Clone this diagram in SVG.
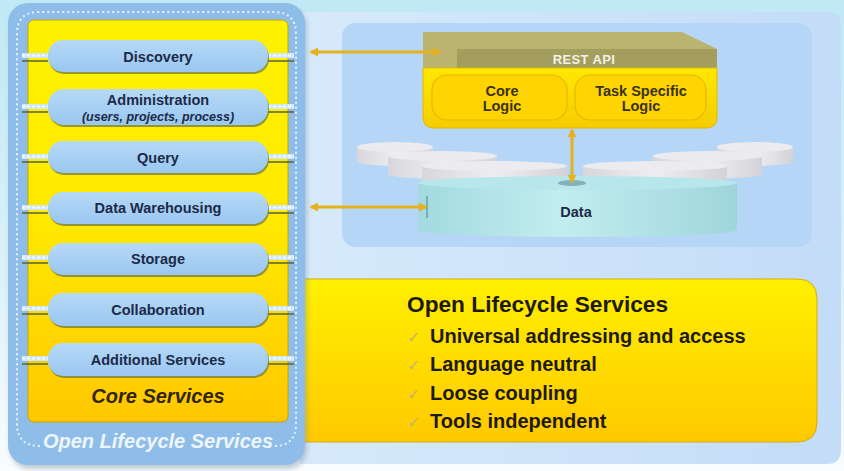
<svg xmlns="http://www.w3.org/2000/svg" width="844" height="471" viewBox="0 0 844 471">
  <style>
    .lbl { font-family: "Liberation Sans", Arial, sans-serif; font-weight: bold; font-size: 14.5px; fill: #1c2a48; text-anchor: middle; }
    .sub { font-family: "Liberation Sans", Arial, sans-serif; font-weight: bold; font-style: italic; font-size: 12.5px; fill: #1c2a48; text-anchor: middle; }
    .logic { font-family: "Liberation Sans", Arial, sans-serif; font-weight: bold; font-size: 14.5px; fill: #3a3218; text-anchor: middle; }
    .pill { fill: url(#pillGrad); }
    .pill-shade { fill: #6e7a45; opacity: 0.75; }
    .stub { fill: #cfe6fb; }
    .stub-dash { stroke: #ffffff; stroke-width: 2; stroke-dasharray: 3 2; opacity: 0.8; }
    .stub-line { stroke: #5d6a3c; stroke-width: 1.6; }
    .arrow { stroke: #e6b11e; stroke-width: 3; fill: none; marker-start: url(#head); marker-end: url(#head); }
    .bullet { font-family: "Liberation Sans", Arial, sans-serif; font-weight: bold; font-size: 20px; fill: #1e1a10; }
    .tick { font-family: "DejaVu Sans", sans-serif; font-size: 16px; fill: #c9b46a; }
    .disk-top { fill: #ececf0; }
    .disk-side { fill: url(#diskGrad); }
  </style>
  <defs>
    <linearGradient id="bg" x1="0" y1="0" x2="0" y2="1">
      <stop offset="0" stop-color="#bfe9f5"/>
      <stop offset="0.6" stop-color="#dcf1f9"/>
      <stop offset="1" stop-color="#fafcfd"/>
    </linearGradient>
    <linearGradient id="outerGrad" x1="0" y1="0" x2="1" y2="0">
      <stop offset="0" stop-color="#d6eafb"/>
      <stop offset="1" stop-color="#c3dcf7"/>
    </linearGradient>
    <linearGradient id="coreYellow" x1="0" y1="0" x2="0" y2="1">
      <stop offset="0" stop-color="#fff200"/>
      <stop offset="0.5" stop-color="#ffe900"/>
      <stop offset="1" stop-color="#ffc800"/>
    </linearGradient>
    <linearGradient id="boxYellow" x1="0" y1="0" x2="0" y2="1">
      <stop offset="0" stop-color="#fff000"/>
      <stop offset="1" stop-color="#ffc900"/>
    </linearGradient>
    <linearGradient id="restYellow" x1="0" y1="0" x2="0" y2="1">
      <stop offset="0" stop-color="#ffe800"/>
      <stop offset="1" stop-color="#f5cc00"/>
    </linearGradient>
    <linearGradient id="pillGrad" x1="0" y1="0" x2="0" y2="1">
      <stop offset="0" stop-color="#b6d9f7"/>
      <stop offset="1" stop-color="#9ac7f0"/>
    </linearGradient>
    <linearGradient id="cylGrad" x1="0" y1="0" x2="1" y2="0">
      <stop offset="0" stop-color="#a2dadf"/>
      <stop offset="0.45" stop-color="#c2edef"/>
      <stop offset="1" stop-color="#9fd6db"/>
    </linearGradient>
    <linearGradient id="diskGrad" x1="0" y1="0" x2="1" y2="0">
      <stop offset="0" stop-color="#d6d6dc"/>
      <stop offset="0.5" stop-color="#eeeef2"/>
      <stop offset="1" stop-color="#d2d2d8"/>
    </linearGradient>
    <marker id="head" viewBox="0 0 10 10" refX="8" refY="5" markerWidth="9" markerHeight="9" markerUnits="userSpaceOnUse" orient="auto-start-reverse">
      <path d="M0,0 L10,5 L0,10 Z" fill="#e6b11e"/>
    </marker>
    <filter id="soft" x="-5%" y="-5%" width="110%" height="110%">
      <feGaussianBlur stdDeviation="2.5"/>
    </filter>
  </defs>

  <!-- backdrop -->
  <rect x="0" y="0" width="844" height="471" fill="url(#bg)"/>

  <!-- right-hand panel with its inner service area -->
  <g id="platform-panel">
    <path d="M300,12 L827,12 Q841,12 841,26 L841,450 Q841,464 827,464 L300,464 Z" fill="url(#outerGrad)"/>
    <rect x="342" y="23" width="470" height="224" rx="14" fill="#b6d6f7"/>
  </g>

  <!-- feature summary box -->
  <g id="features">
    <path d="M300,279 L797,279 Q817,279 817,299 L817,422 Q817,442 797,442 L300,442 Z" fill="url(#boxYellow)" stroke="#d8aa10" stroke-width="1"/>
    <text x="407" y="312" font-family="Liberation Sans, Arial, sans-serif" font-weight="bold" font-size="22.7" fill="#1e1a10">Open Lifecycle Services</text>
    <text class="tick" x="407" y="343">✓</text>
    <text class="bullet" x="430" y="343">Universal addressing and access</text>
    <text class="tick" x="407" y="371">✓</text>
    <text class="bullet" x="430" y="371">Language neutral</text>
    <text class="tick" x="407" y="400">✓</text>
    <text class="bullet" x="430" y="400">Loose coupling</text>
    <text class="tick" x="407" y="428">✓</text>
    <text class="bullet" x="430" y="428">Tools independent</text>
  </g>

  <!-- left column: Open Lifecycle Services container -->
  <g id="open-lifecycle-services">
    <rect x="10" y="7" width="297" height="462" rx="20" fill="#7d8ea0" opacity="0.45" filter="url(#soft)"/>
    <rect x="8" y="3" width="297" height="462" rx="20" fill="#8fbde9"/>
    <path d="M40,446 Q17,446 17,424 L17,34 Q17,12 39,12 L274,12 Q296,12 296,34 L296,424 Q296,446 274,446" fill="none" stroke="#e6f1fc" stroke-width="2" stroke-dasharray="2 3"/>
    <text x="158" y="448" font-family="Liberation Sans, Arial, sans-serif" font-weight="bold" font-style="italic" font-size="20" fill="#eef5ff" text-anchor="middle">Open Lifecycle Services</text>
  </g>

  <!-- core services block -->
  <g id="core-services">
    <rect x="28" y="20" width="260" height="402" rx="6" fill="url(#coreYellow)" stroke="#c9a400" stroke-width="1"/>
    <text x="158" y="403" font-family="Liberation Sans, Arial, sans-serif" font-weight="bold" font-style="italic" font-size="20" fill="#33240c" text-anchor="middle">Core Services</text>
  </g>

  <!-- service pills -->
  <g id="discovery">
    <rect class="stub" x="22" y="53" width="26" height="5"/><line class="stub-dash" x1="22" y1="55.5" x2="48" y2="55.5"/><line class="stub-line" x1="22" y1="61" x2="48" y2="61"/>
    <rect class="stub" x="268" y="53" width="26" height="5"/><line class="stub-dash" x1="268" y1="55.5" x2="294" y2="55.5"/><line class="stub-line" x1="268" y1="61" x2="294" y2="61"/>
    <rect class="pill-shade" x="49" y="42" width="220" height="32" rx="15"/>
    <rect class="pill" x="48" y="40" width="220" height="32" rx="15"/>
    <text class="lbl" x="158" y="62">Discovery</text>
  </g>
  <g id="administration">
    <rect class="stub" x="22" y="104" width="26" height="5"/><line class="stub-dash" x1="22" y1="106.5" x2="48" y2="106.5"/><line class="stub-line" x1="22" y1="112" x2="48" y2="112"/>
    <rect class="stub" x="268" y="104" width="26" height="5"/><line class="stub-dash" x1="268" y1="106.5" x2="294" y2="106.5"/><line class="stub-line" x1="268" y1="112" x2="294" y2="112"/>
    <rect class="pill-shade" x="49" y="91" width="220" height="36" rx="16"/>
    <rect class="pill" x="48" y="89" width="220" height="36" rx="16"/>
    <text class="lbl" x="158" y="105">Administration</text>
    <text class="sub" x="158" y="121">(users, projects, process)</text>
  </g>
  <g id="query">
    <rect class="stub" x="22" y="154" width="26" height="5"/><line class="stub-dash" x1="22" y1="156.5" x2="48" y2="156.5"/><line class="stub-line" x1="22" y1="162" x2="48" y2="162"/>
    <rect class="stub" x="268" y="154" width="26" height="5"/><line class="stub-dash" x1="268" y1="156.5" x2="294" y2="156.5"/><line class="stub-line" x1="268" y1="162" x2="294" y2="162"/>
    <rect class="pill-shade" x="49" y="143" width="220" height="32" rx="15"/>
    <rect class="pill" x="48" y="141" width="220" height="32" rx="15"/>
    <text class="lbl" x="158" y="163">Query</text>
  </g>
  <g id="data-warehousing">
    <rect class="stub" x="22" y="205" width="26" height="5"/><line class="stub-dash" x1="22" y1="207.5" x2="48" y2="207.5"/><line class="stub-line" x1="22" y1="213" x2="48" y2="213"/>
    <rect class="stub" x="268" y="205" width="26" height="5"/><line class="stub-dash" x1="268" y1="207.5" x2="294" y2="207.5"/><line class="stub-line" x1="268" y1="213" x2="294" y2="213"/>
    <rect class="pill-shade" x="49" y="194" width="220" height="32" rx="15"/>
    <rect class="pill" x="48" y="192" width="220" height="32" rx="15"/>
    <text class="lbl" x="158" y="213">Data Warehousing</text>
  </g>
  <g id="storage">
    <rect class="stub" x="22" y="255" width="26" height="5"/><line class="stub-dash" x1="22" y1="257.5" x2="48" y2="257.5"/><line class="stub-line" x1="22" y1="263" x2="48" y2="263"/>
    <rect class="stub" x="268" y="255" width="26" height="5"/><line class="stub-dash" x1="268" y1="257.5" x2="294" y2="257.5"/><line class="stub-line" x1="268" y1="263" x2="294" y2="263"/>
    <rect class="pill-shade" x="49" y="245" width="220" height="32" rx="15"/>
    <rect class="pill" x="48" y="243" width="220" height="32" rx="15"/>
    <text class="lbl" x="158" y="264">Storage</text>
  </g>
  <g id="collaboration">
    <rect class="stub" x="22" y="306" width="26" height="5"/><line class="stub-dash" x1="22" y1="308.5" x2="48" y2="308.5"/><line class="stub-line" x1="22" y1="314" x2="48" y2="314"/>
    <rect class="stub" x="268" y="306" width="26" height="5"/><line class="stub-dash" x1="268" y1="308.5" x2="294" y2="308.5"/><line class="stub-line" x1="268" y1="314" x2="294" y2="314"/>
    <rect class="pill-shade" x="49" y="295" width="220" height="33" rx="15"/>
    <rect class="pill" x="48" y="293" width="220" height="33" rx="15"/>
    <text class="lbl" x="158" y="315">Collaboration</text>
  </g>
  <g id="additional-services">
    <rect class="stub" x="22" y="356" width="26" height="5"/><line class="stub-dash" x1="22" y1="358.5" x2="48" y2="358.5"/><line class="stub-line" x1="22" y1="364" x2="48" y2="364"/>
    <rect class="stub" x="268" y="356" width="26" height="5"/><line class="stub-dash" x1="268" y1="358.5" x2="294" y2="358.5"/><line class="stub-line" x1="268" y1="364" x2="294" y2="364"/>
    <rect class="pill-shade" x="49" y="345" width="220" height="33" rx="15"/>
    <rect class="pill" x="48" y="343" width="220" height="33" rx="15"/>
    <text class="lbl" x="158" y="365">Additional Services</text>
  </g>

  <!-- REST API service box -->
  <g id="rest-api">
    <path d="M423,32 L682,32 L717,49 L717,68 L423,68 Z" fill="#bab470"/>
    <rect x="457" y="49" width="260" height="19" fill="#a39e5d"/>
    <path d="M423,68 L717,68 L717,117 Q717,128 706,128 L434,128 Q423,128 423,117 Z" fill="url(#restYellow)" stroke="#e2b800" stroke-width="1"/>
    <text x="584" y="64" font-family="Liberation Sans, Arial, sans-serif" font-weight="bold" font-size="13" fill="#f4f2e4" text-anchor="middle" letter-spacing="0.4">REST API</text>
  </g>
  <g id="core-logic">
    <rect x="432" y="75" width="135" height="45" rx="15" fill="#ffd400" stroke="#e8b600" stroke-width="1.2"/>
    <text class="logic" x="502" y="96">Core</text>
    <text class="logic" x="502" y="111">Logic</text>
  </g>
  <g id="task-specific-logic">
    <rect x="575" y="75" width="131" height="45" rx="15" fill="#ffd400" stroke="#e8b600" stroke-width="1.2"/>
    <text class="logic" x="641" y="96">Task Specific</text>
    <text class="logic" x="641" y="111">Logic</text>
  </g>

  <!-- data store: stacked disks behind the main cylinder -->
  <g id="data">
    <path class="disk-side" d="M357,147 L357,161 A38,5 0 0 0 433,161 L433,147 Z"/><ellipse class="disk-top" cx="395" cy="147" rx="38" ry="5"/>
    <path class="disk-side" d="M717,147 L717,161 A38,5 0 0 0 793,161 L793,147 Z"/><ellipse class="disk-top" cx="755" cy="147" rx="38" ry="5"/>
    <path class="disk-side" d="M388,156 L388,174 A54.5,5 0 0 0 497,174 L497,156 Z"/><ellipse class="disk-top" cx="442.5" cy="156" rx="54.5" ry="5"/>
    <path class="disk-side" d="M653,156 L653,174 A54.5,5 0 0 0 762,174 L762,156 Z"/><ellipse class="disk-top" cx="707.5" cy="156" rx="54.5" ry="5"/>
    <path class="disk-side" d="M422,166 L422,180 A72.5,5 0 0 0 567,180 L567,166 Z"/><ellipse class="disk-top" cx="494.5" cy="166" rx="72.5" ry="5"/>
    <path class="disk-side" d="M583,166 L583,180 A72,5 0 0 0 727,180 L727,166 Z"/><ellipse class="disk-top" cx="655" cy="166" rx="72" ry="5"/>
    <path d="M418,183 L418,230 A159.5,7 0 0 0 737,230 L737,183 Z" fill="url(#cylGrad)"/>
    <ellipse cx="577.5" cy="183" rx="159.5" ry="7" fill="#b8e7eb"/>
    <ellipse cx="572" cy="183" rx="14" ry="3" fill="#6d98a8" opacity="0.7"/>
    <line x1="427" y1="196" x2="427" y2="218" stroke="#4e7f86" stroke-width="1"/>
    <text class="lbl" x="576" y="217">Data</text>
  </g>

  <!-- connectors -->
  <g id="connectors">
    <line class="arrow" x1="311" y1="52" x2="440" y2="52"/>
    <line class="arrow" x1="311" y1="207" x2="426" y2="207"/>
    <line class="arrow" x1="572" y1="130" x2="572" y2="182"/>
  </g>
</svg>
